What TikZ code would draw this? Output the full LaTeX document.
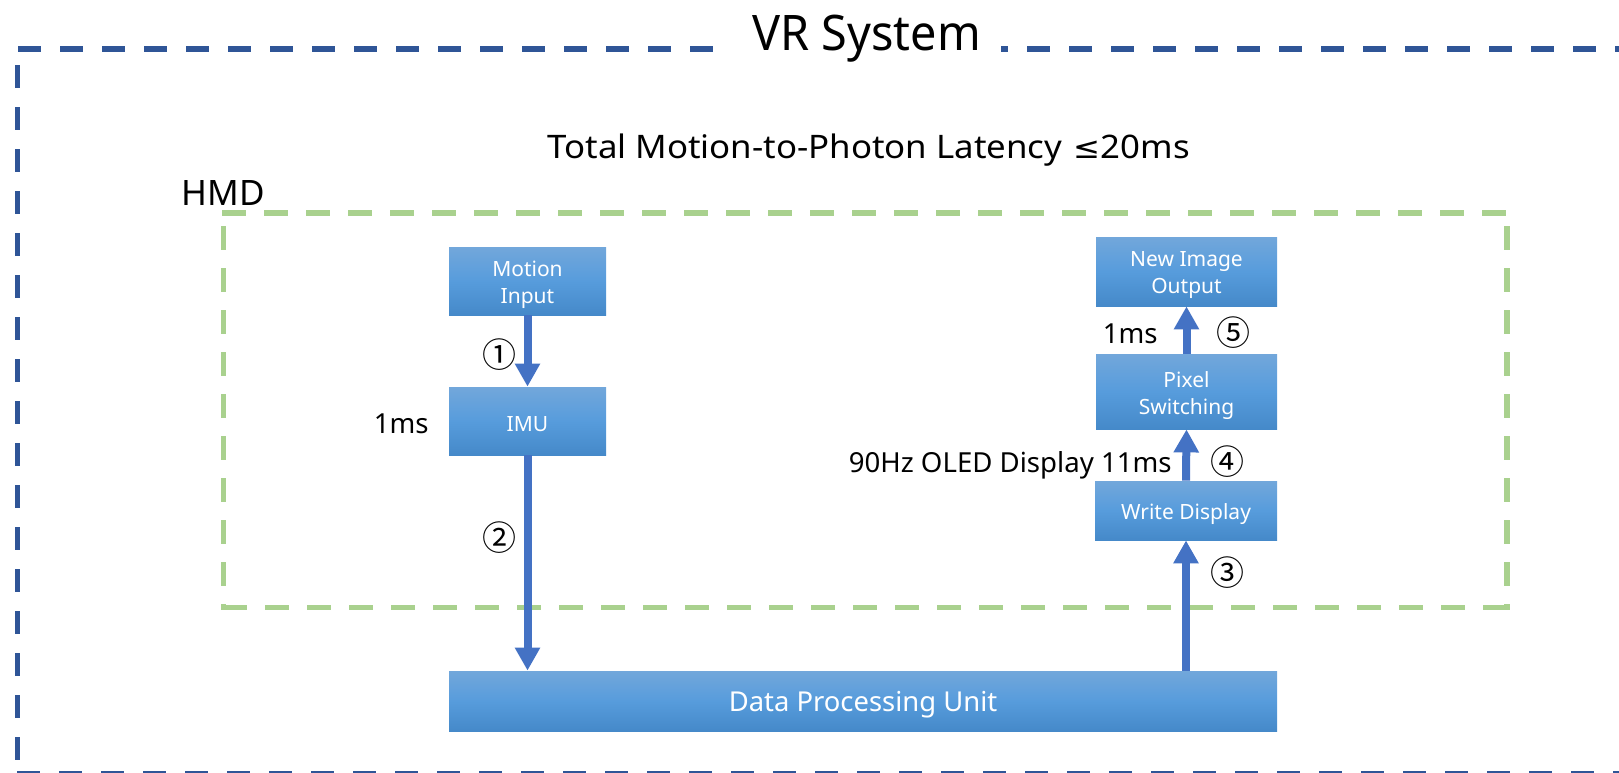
\documentclass[tikz,border=0pt]{standalone}
\usepackage{fontspec}
\setmainfont{Noto Sans}
\newfontfamily\cjkfont{Noto Sans CJK KR}
\newfontfamily\symfont{DejaVu Sans}
\usetikzlibrary{arrows.meta}

\definecolor{sysblue}{HTML}{2F5597}
\definecolor{hmdgreen}{HTML}{A9D18E}
\definecolor{flowblue}{HTML}{4472C4}
\definecolor{boxtop}{HTML}{72A7DB}
\definecolor{boxmid}{HTML}{579CDC}
\definecolor{boxbot}{HTML}{4589C9}

\tikzset{
  sysline/.style={draw=sysblue, line width=2.75pt, dash pattern=on 11.5pt off 9.5pt},
  hmdline/.style={draw=hmdgreen, line width=2.75pt, dash pattern=on 12pt off 9pt},
  unit/.style={draw=none, top color=boxtop, bottom color=boxbot, middle color=boxmid, inner sep=0pt},
  unittext/.style={text=white, align=center, inner sep=0pt, yshift=-1.8pt,
    font=\fontsize{10.5}{13.5}\selectfont},
  flow/.style={draw=flowblue, line width=4pt,
    -{Triangle[width=12pt,length=11.5pt]}},
  lbl/.style={inner sep=0pt, font=\fontsize{13.8}{16}\selectfont},
  num/.style={inner sep=0pt, font=\cjkfont\fontsize{17}{18}\selectfont},
}

\begin{document}
\begin{tikzpicture}[x=0.5pt, y=-0.5pt]
\useasboundingbox (0,0) rectangle (1619,772);
\clip (0,0) rectangle (1619,772);

% VR system frame (title interrupts the top edge)
\draw[sysline] (18,49) -- (716,49);
\draw[sysline, dash phase=16*0.5pt] (1001,49) -- (1640,49);
\draw[sysline] (17.5,65) -- (17.5,780);
\draw[sysline] (17,774) -- (1640,774);
\node[anchor=base west, inner sep=0pt, font=\fontsize{24.5}{28}\selectfont] (vrtitle) at (752,50)
  {\scalebox{0.955}[1]{VR System}};

% overall latency budget
\node[anchor=base west, inner sep=0pt, font=\fontsize{16.2}{19}\selectfont] (total) at (547,158)
  {\scalebox{1.075}[1]{Total Motion-to-Photon Latency \kern1pt{\symfont\fontsize{15}{19}\selectfont ≤}20ms}};

% HMD frame
\node[anchor=base west, inner sep=0pt, font=\fontsize{17.5}{20}\selectfont] (hmd) at (181,205) {HMD};
\draw[hmdline] (222,213) -- (1510,213);
\draw[hmdline] (223.5,226) -- (223.5,610);
\draw[hmdline] (223,607.5) -- (1510,607.5);
\draw[hmdline] (1507,226) -- (1507,610);

% processing blocks
\node[unit, minimum width=78.5pt, minimum height=34pt,
  label={[unittext]center:Motion\\Input}] (motion) at (527.5,281) {};
\node[unit, minimum width=78.5pt, minimum height=34pt,
  label={[unittext]center:IMU}] (imu) at (527.5,421) {};
\node[unit, minimum width=90.5pt, minimum height=34.5pt,
  label={[unittext]center:New Image\\Output}] (newimg) at (1186.5,271.5) {};
\node[unit, minimum width=90.5pt, minimum height=37.5pt,
  label={[unittext]center:Pixel\\Switching}] (pixel) at (1186.5,391.5) {};
\node[unit, minimum width=91pt, minimum height=29.5pt,
  label={[unittext]center:Write Display}] (write) at (1186,510.5) {};
\node[unit, minimum width=414pt, minimum height=30pt,
  label={[unittext, font=\fontsize{13.7}{16}\selectfont]center:Data Processing Unit}] (dpu) at (863,701) {};

% data flow
\draw[flow] (motion.south) -- (imu.north);
\draw[flow] (imu.south) -- (imu.south |- dpu.north);
\draw[flow] (dpu.north -| write.south) -- (write.south);
\draw[flow] (write.north) -- (pixel.south);
\draw[flow] (pixel.north) -- (newimg.south);

% step numbers
\node[num] (n1) at (499,355) {①};
\node[num] (n2) at (499,538) {②};
\node[num] (n3) at (1227,573) {③};
\node[num] (n4) at (1227,462) {④};
\node[num] (n5) at (1233,333) {⑤};

% latencies
\node[lbl, anchor=base east] (t1) at (429,433) {1ms};
\node[lbl, anchor=base east] (t4) at (1172,472) {90Hz OLED Display 11ms};
\node[lbl, anchor=base east] (t5) at (1158,343) {1ms};
\end{tikzpicture}
\end{document}
